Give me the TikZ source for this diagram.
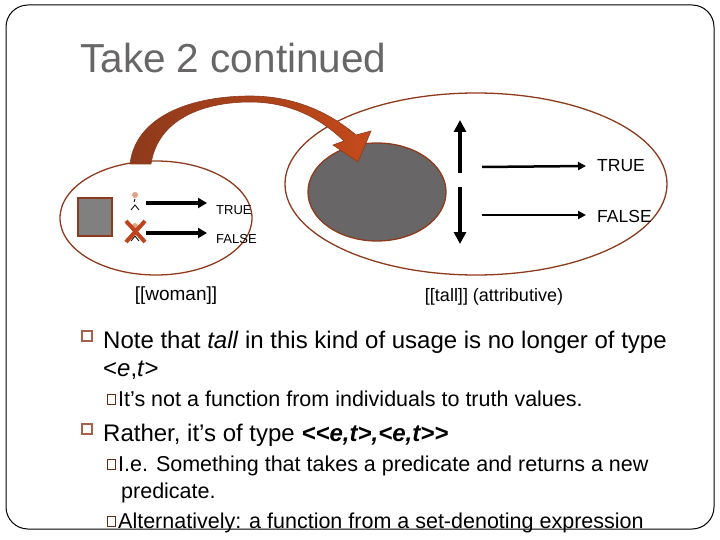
\documentclass[tikz,border=0pt]{standalone}
\usepackage{fontspec}
\setmainfont{Liberation Sans}
\usepackage{tikz}
\usetikzlibrary{shapes.geometric}
\usetikzlibrary{arrows.meta}
\usetikzlibrary{positioning}
\definecolor{brn}{RGB}{142,58,28}
\definecolor{rust}{RGB}{190,68,30}
\definecolor{slate}{RGB}{104,102,102}
\tikzstyle{setb}=[ellipse,draw=brn,line width=1.3pt,inner sep=0pt]
\tikzstyle{lbl}=[inner sep=0pt,anchor=west]
\tikzstyle{fatarrow}=[line width=3.5pt,-{Triangle[length=9pt,width=10pt]}]
\tikzstyle{midarrow}=[line width=2.5pt,-{Triangle[length=8pt,width=8pt]}]
\tikzstyle{vertarrow}=[line width=4pt,-{Triangle[length=12pt,width=12pt]}]
\tikzstyle{bul}=[draw=brn!80,line width=2pt,fill=white,inner sep=0pt,minimum size=10pt]
\tikzstyle{subbul}=[draw=brn!70!black,line width=0.8pt,inner sep=0pt,minimum width=8pt,minimum height=10pt]
\tikzstyle{txt}=[inner sep=0pt,anchor=base west]
\newcommand\lt{<\kern0pt}

\begin{document}
\begin{tikzpicture}[x=1pt,y=-1pt]
        \useasboundingbox (0,0) rectangle (720,540);
        % slide frame
        \draw[line width=1pt,rounded corners=22pt] (6,5) rectangle (714,529);
        \node[txt,text=slate,font=\fontsize{40.5}{40}\selectfont] (title) at (80,73) {Take 2 continued};
        % [[woman]]
        \node[setb,minimum width=192pt,minimum height=114pt] (woman) at (156,218) {};
        \node[draw=brn,line width=2pt,fill=gray,minimum width=34pt,minimum height=38pt,inner sep=0pt] (blob) at (95,217) {};
        \coordinate (yes) at (135,203);
        \coordinate (no) at (135,233);
        \fill[red!20!brown!60] (135,195) circle (3pt);
        \draw[line width=0.8pt] (135,199) -- (134,202) (131,210) -- (135,205) -- (139,210);
        \fill[red!20!brown!60] (135,226) circle (3pt);
        \draw[line width=0.8pt] (135,230) -- (134,233) (131,241) -- (135,236) -- (139,241);
        \draw[rust,line width=4pt] (126,221) -- (145,242) (145,221) -- (126,242);
        \node[lbl,font=\fontsize{13}{13}\selectfont] (t1) at (216,210) {TRUE};
        \node[lbl,font=\fontsize{13}{13}\selectfont] (f1) at (216,239) {FALSE};
        \draw[fatarrow] ([xshift=11pt]yes) -- ([xshift=-9pt]t1.west |- yes);
        \draw[fatarrow] ([xshift=11pt]no) -- ([xshift=-9pt]f1.west |- no);
        \node[font=\fontsize{19}{19}\selectfont] (wname) at (176,296) {[[woman]]};
        % [[tall]]
        \node[setb,minimum width=382pt,minimum height=182pt] (tall) at (476,184) {};
        \node[setb,fill=slate,minimum width=138pt,minimum height=98pt] (sub) at (377,192) {};
        \coordinate (upS) at (460,173);
        \coordinate (upE) at (460,120);
        \coordinate (dnS) at (460,187);
        \coordinate (dnE) at (460,244);
        \draw[vertarrow] (upS) -- (upE);
        \draw[vertarrow] (dnS) -- (dnE);
        \node[lbl,font=\fontsize{17.5}{17.5}\selectfont] (t2) at (597,166) {TRUE};
        \node[lbl,font=\fontsize{17.5}{17.5}\selectfont] (f2) at (597,216) {FALSE};
        \coordinate (t2s) at (482,167);
        \coordinate (f2s) at (482,215);
        \draw[midarrow] (t2s) -- ([xshift=-11pt]t2.west);
        \draw[midarrow] (f2s) -- ([xshift=-11pt]f2.west |- f2s);
        \node[font=\fontsize{18}{18}\selectfont] (tname) at (494,297) {[[tall]] (attributive)};
        % curved arrow from woman to the grey set
        \path[draw=brn,line width=0.6pt,left color=brn,right color=rust!90!orange]
          (130,164) .. controls (136,114) and (195,96) .. (250,96)
          .. controls (295,96) and (330,113) .. (356,135)
          -- (371,131) -- (358,162) -- (333,145) -- (344,141)
          .. controls (320,118) and (290,102) .. (250,102)
          .. controls (205,102) and (158,118) .. (151,164) -- cycle;
        % bullets
        \node[bul] (b1) at (87,336) {};
        \node[txt,font=\fontsize{24}{24}\selectfont] (l1) at (103,348) {Note that \textit{tall} in this kind of usage is no longer of type};
        \node[txt,font=\fontsize{24}{24}\selectfont] (l2) at (103,376) {<\textit{e},\textit{t}>};
        \node[subbul] (b2) at (111,399) {};
        \node[txt,font=\fontsize{21.5}{21.5}\selectfont] (l3) at (118,406) {It’s not a function from individuals to truth values.};
        \node[bul] (b3) at (87,429) {};
        \node[txt,font=\fontsize{24}{24}\selectfont] (l4) at (103,441) {Rather, it’s of type \textbf{\textit{\lt<e,t>,<e,t>\kern0pt>}}};
        \node[subbul] (b4) at (111,464) {};
        \node[txt,font=\fontsize{21.5}{21.5}\selectfont] (l5) at (118,471) {I.e. Something that takes a predicate and returns a new};
        \node[txt,font=\fontsize{21.5}{21.5}\selectfont] (l6) at (121,498) {predicate.};
        \node[subbul] (b5) at (111,521) {};
        \node[txt,font=\fontsize{21.5}{21.5}\selectfont] (l7) at (118,528) {Alternatively: a function from a set-denoting expression};
      \end{tikzpicture}
\end{document}
